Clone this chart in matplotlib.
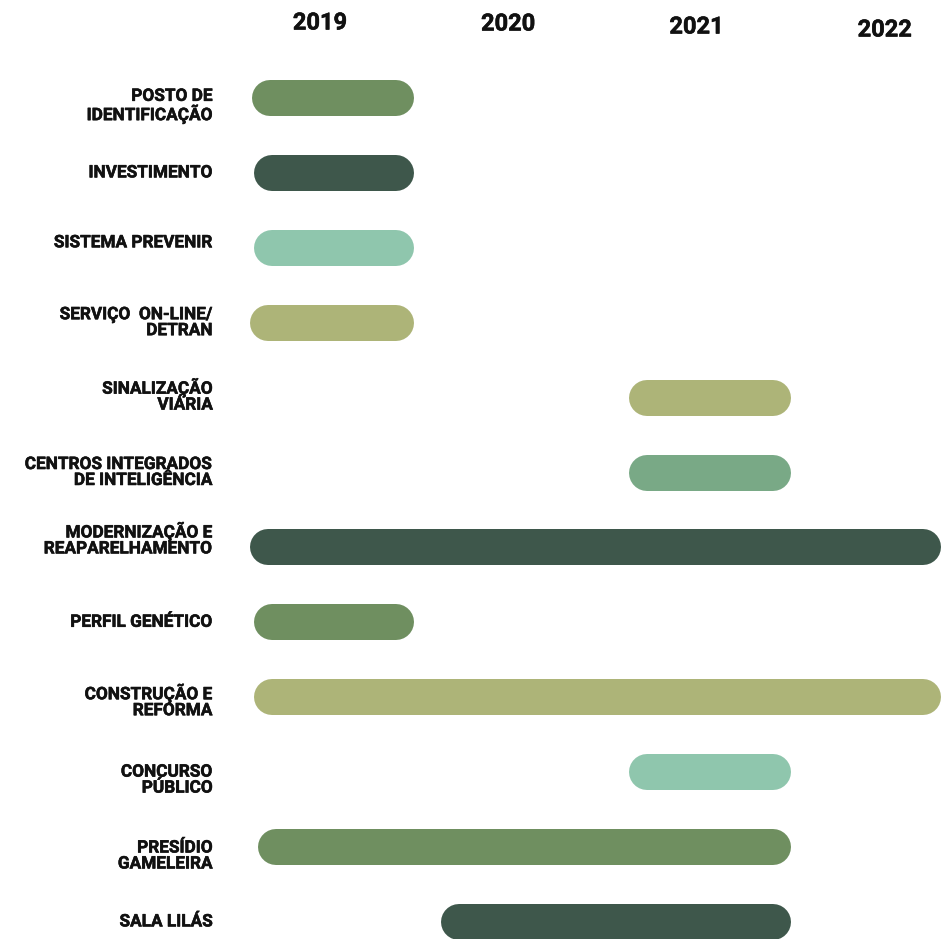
import matplotlib
matplotlib.use("Agg")
import matplotlib.pyplot as plt
import matplotlib.patheffects as pe

# ---- data ----
projects = [
    "POSTO DE\nIDENTIFICAÇÃO",
    "INVESTIMENTO",
    "SISTEMA PREVENIR",
    "SERVIÇO  ON-LINE/\nDETRAN",
    "SINALIZAÇÃO\nVIÁRIA",
    "CENTROS INTEGRADOS\nDE INTELIGÊNCIA",
    "MODERNIZAÇÃO E\nREAPARELHAMENTO",
    "PERFIL GENÉTICO",
    "CONSTRUÇÃO E\nREFORMA",
    "CONCURSO\nPÚBLICO",
    "PRESÍDIO\nGAMELEIRA",
    "SALA LILÁS",
]
start = [2019.14, 2019.15, 2019.15, 2019.13, 2021.14, 2021.14,
         2019.13, 2019.15, 2019.15, 2021.14, 2019.17, 2020.14]
end = [2020.0, 2020.0, 2020.0, 2020.0, 2022.0, 2022.0,
       2022.8, 2020.0, 2022.8, 2022.0, 2022.0, 2022.0]
years = [2019, 2020, 2021, 2022]

# ---- styles ----
DARK = "#3e574b"
MED = "#6f8f60"
MINT = "#8fc6ad"
OLIVE = "#adb478"
SAGE = "#79a986"
colors = [MED, DARK, MINT, OLIVE, OLIVE, SAGE, DARK, MED, OLIVE, MINT, MED, DARK]
label_dy_px = [8, 0, -5, 0, -2, 0, -8, 0, 4, 8, 9, 0]
year_dy_px = [0, 1, 4, 7]

W, H = 941, 939
fig = plt.figure(figsize=(W / 100, H / 100), dpi=100)
ax = fig.add_axes([0, 0, 1, 1])

# pixel mapping
px_per_year = 188.3
x0_px = 320.0   # position of 2019.5
row0_px = 98.0
row_px = 74.9
xmin = 2019.5 - x0_px / px_per_year
xmax = 2019.5 + (W - x0_px) / px_per_year
ymin = -row0_px / row_px
ymax = (H - row0_px) / row_px
ax.set_xlim(xmin, xmax)
ax.set_ylim(ymax, ymin)
ax.axis("off")

bar_px = 36
lw_pt = bar_px * 72 / 100
cap = (bar_px / 2) / px_per_year

font = "Roboto"
ink = "#111111"
label_x = 2019.5 + (213 - x0_px) / px_per_year
heavy = [pe.withStroke(linewidth=0.4, foreground=ink)]

for i, (name, s, e, c) in enumerate(zip(projects, start, end, colors)):
    ax.plot([s + cap, e - cap], [i, i], color=c, lw=lw_pt,
            solid_capstyle="round", zorder=2)
    ax.text(label_x, i + label_dy_px[i] / row_px, name, ha="right", va="center",
            multialignment="right", fontsize=12.4, fontweight="bold",
            family=font, color=ink, linespacing=1.08, path_effects=heavy)

for yr, dy in zip(years, year_dy_px):
    ax.text(yr + 0.5, ymin + (23 + dy) / row_px, str(yr), ha="center",
            va="center", fontsize=17, fontweight="bold", family=font,
            color=ink, path_effects=heavy)

fig.savefig("out.png", dpi=100, facecolor="white")
